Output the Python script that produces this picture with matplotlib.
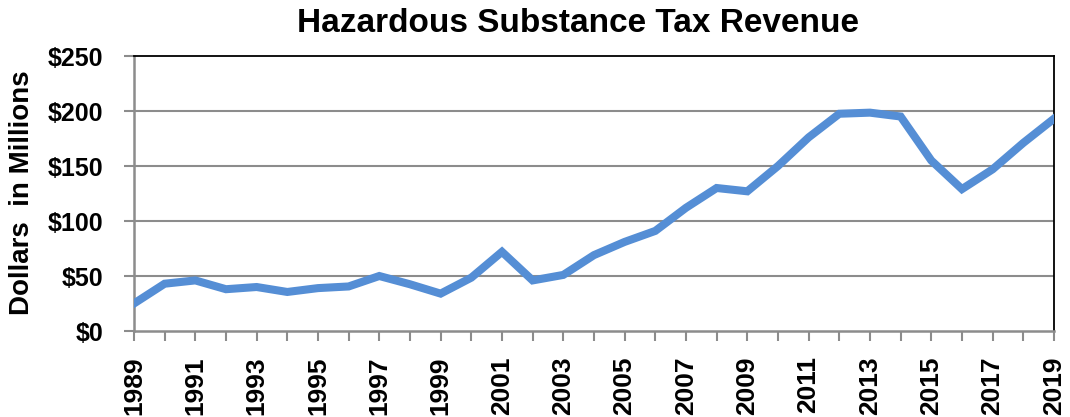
import matplotlib.pyplot as plt

years = list(range(1989, 2020))
revenue = [25, 43, 46, 38, 40, 35.5, 39, 40.5, 50, 42.5, 34, 48.5, 72,
           46, 51, 69, 81, 91, 112, 130, 127, 150, 176, 197.5, 198.5,
           195, 155, 129, 147, 171, 193]
y_ticks = [0, 50, 100, 150, 200, 250]

plt.rcParams['font.family'] = ['Liberation Sans', 'DejaVu Sans']

fig = plt.figure(figsize=(10.7, 4.17), dpi=100)
ax = fig.add_axes([0.1252, 0.2062, 0.8598, 0.6595])

for v in y_ticks[1:-1]:
    ax.axhline(v, color='#8c8c8c', lw=1.5, zorder=1)

ax.plot(years, revenue, color='#558ED5', lw=5.8, solid_joinstyle='miter', zorder=3)

ax.set_xlim(1989, 2019)
ax.set_ylim(0, 250)
ax.set_yticks(y_ticks)
ax.set_yticklabels(['$' + str(v) for v in y_ticks], fontsize=18, fontweight='bold')
ax.set_xticks(years)
ax.set_xticklabels([str(y) if (y - 1989) % 2 == 0 else '' for y in years],
                   rotation=90, fontsize=19, fontweight='bold')
ax.tick_params(axis='both', direction='out', length=7, width=1.5, color='#8c8c8c')
ax.tick_params(axis='y', pad=15)
ax.tick_params(axis='x', pad=11)

ax.spines['left'].set_color('#8c8c8c')
ax.spines['bottom'].set_color('#8c8c8c')
ax.spines['left'].set_linewidth(1.8)
ax.spines['bottom'].set_linewidth(1.8)
ax.spines['top'].set_color('black')
ax.spines['right'].set_color('black')
ax.spines['top'].set_linewidth(1.3)
ax.spines['right'].set_linewidth(1.3)

fig.text(0.0206, 0.539, 'Dollars  in Millions', rotation=90, ha='center', va='center',
         fontsize=20, fontweight='bold')
fig.text(0.54, 0.923, 'Hazardous Substance Tax Revenue', ha='center', va='baseline',
         fontsize=24, fontweight='bold')

plt.savefig('out.png', dpi=100)
